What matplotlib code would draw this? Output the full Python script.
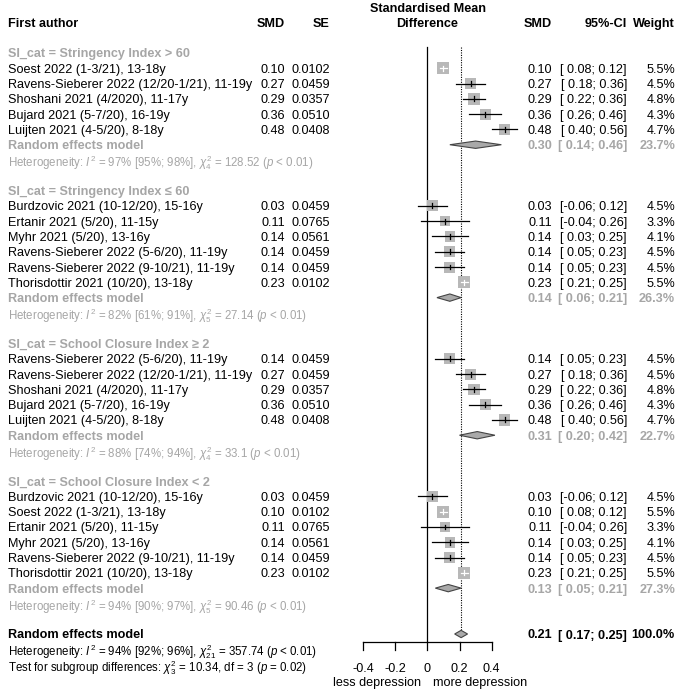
import numpy as np
import matplotlib
matplotlib.use("Agg")
import matplotlib.pyplot as plt
from matplotlib.patches import Rectangle, Polygon
from matplotlib.transforms import blended_transform_factory

plt.rcParams["font.family"] = ["Liberation Sans", "DejaVu Sans"]
plt.rcParams["mathtext.fontset"] = "custom"
plt.rcParams["mathtext.rm"] = "Liberation Sans"
plt.rcParams["mathtext.it"] = "Liberation Sans:italic"
plt.rcParams["mathtext.bf"] = "Liberation Sans:bold"

# ---- data ----
group_labels = ["SI_cat = Stringency Index > 60",
                "SI_cat = Stringency Index \u2264 60",
                "SI_cat = School Closure Index \u2265 2",
                "SI_cat = School Closure Index < 2"]

g1_study = ["Soest 2022 (1-3/21), 13-18y", "Ravens-Sieberer 2022 (12/20-1/21), 11-19y",
            "Shoshani 2021 (4/2020), 11-17y", "Bujard 2021 (5-7/20), 16-19y",
            "Luijten 2021 (4-5/20), 8-18y"]
g1_smd = [0.10, 0.27, 0.29, 0.36, 0.48]
g1_se = [0.0102, 0.0459, 0.0357, 0.0510, 0.0408]
g1_lo = [0.08, 0.18, 0.22, 0.26, 0.40]
g1_hi = [0.12, 0.36, 0.36, 0.46, 0.56]
g1_w = [5.5, 4.5, 4.8, 4.3, 4.7]

g2_study = ["Burdzovic 2021 (10-12/20), 15-16y", "Ertanir 2021 (5/20), 11-15y",
            "Myhr 2021 (5/20), 13-16y", "Ravens-Sieberer 2022 (5-6/20), 11-19y",
            "Ravens-Sieberer 2022 (9-10/21), 11-19y", "Thorisdottir 2021 (10/20), 13-18y"]
g2_smd = [0.03, 0.11, 0.14, 0.14, 0.14, 0.23]
g2_se = [0.0459, 0.0765, 0.0561, 0.0459, 0.0459, 0.0102]
g2_lo = [-0.06, -0.04, 0.03, 0.05, 0.05, 0.21]
g2_hi = [0.12, 0.26, 0.25, 0.23, 0.23, 0.25]
g2_w = [4.5, 3.3, 4.1, 4.5, 4.5, 5.5]

g3_study = ["Ravens-Sieberer 2022 (5-6/20), 11-19y", "Ravens-Sieberer 2022 (12/20-1/21), 11-19y",
            "Shoshani 2021 (4/2020), 11-17y", "Bujard 2021 (5-7/20), 16-19y",
            "Luijten 2021 (4-5/20), 8-18y"]
g3_smd = [0.14, 0.27, 0.29, 0.36, 0.48]
g3_se = [0.0459, 0.0459, 0.0357, 0.0510, 0.0408]
g3_lo = [0.05, 0.18, 0.22, 0.26, 0.40]
g3_hi = [0.23, 0.36, 0.36, 0.46, 0.56]
g3_w = [4.5, 4.5, 4.8, 4.3, 4.7]

g4_study = ["Burdzovic 2021 (10-12/20), 15-16y", "Soest 2022 (1-3/21), 13-18y",
            "Ertanir 2021 (5/20), 11-15y", "Myhr 2021 (5/20), 13-16y",
            "Ravens-Sieberer 2022 (9-10/21), 11-19y", "Thorisdottir 2021 (10/20), 13-18y"]
g4_smd = [0.03, 0.10, 0.11, 0.14, 0.14, 0.23]
g4_se = [0.0459, 0.0102, 0.0765, 0.0561, 0.0459, 0.0102]
g4_lo = [-0.06, 0.08, -0.04, 0.03, 0.05, 0.21]
g4_hi = [0.12, 0.12, 0.26, 0.25, 0.23, 0.25]
g4_w = [4.5, 5.5, 3.3, 4.1, 4.5, 5.5]

re_smd = [0.30, 0.14, 0.31, 0.13]
re_lo = [0.14, 0.06, 0.20, 0.05]
re_hi = [0.46, 0.21, 0.42, 0.21]
re_w = [23.7, 26.3, 22.7, 27.3]
het_i2 = ["97% [95%; 98%]", "82% [61%; 91%]", "88% [74%; 94%]", "94% [90%; 97%]"]
het_df = [4, 5, 4, 5]
het_q = ["128.52", "27.14", "33.1", "90.46"]

overall = (0.21, 0.17, 0.25, 100.0)
overall_het = ("94% [92%; 96%]", 21, "357.74")
subgroup_test = (3, "10.34", 3, "0.02")

xticks = [-0.4, -0.2, 0, 0.2, 0.4]

groups = [(g1_study, g1_smd, g1_se, g1_lo, g1_hi, g1_w),
          (g2_study, g2_smd, g2_se, g2_lo, g2_hi, g2_w),
          (g3_study, g3_smd, g3_se, g3_lo, g3_hi, g3_w),
          (g4_study, g4_smd, g4_se, g4_lo, g4_hi, g4_w)]

# ---- layout ----
W, H = 685, 690
x0_px, unit_px = 427.3, 161.0      # pixel of SMD=0, pixels per SMD unit
y0_px, row_px = 22.4, 15.29        # pixel of row 0, pixels per row
fs = 9.1
fs_het = 8.3
grey = "#a6a6a6"
box_col = "#b8b8b8"
dia_col = "#a9a9a9"

fig = plt.figure(figsize=(W / 100, H / 100), dpi=100)
ax = fig.add_axes([0, 0, 1, 1])
ax.set_xlim(-x0_px / unit_px, (W - x0_px) / unit_px)
ax.set_ylim((H - y0_px) / row_px, -y0_px / row_px)
ax.axis("off")
tr = blended_transform_factory(fig.transFigure, ax.transData)


def txt(px, row, s, ha="left", color="black", weight="normal", size=fs):
    ax.text(px / W, row, s, ha=ha, va="center_baseline", color=color,
            fontweight=weight, fontsize=size, transform=tr)


def fmt_ci(lo, hi):
    a = ("%.2f" % lo) if lo < 0 else (" %.2f" % lo)
    return "[%s; %.2f]" % (a, hi)


def diamond(est, lo, hi, row, h=0.24):
    ax.add_patch(Polygon([(lo, row), (est, row - h), (hi, row), (est, row + h)],
                         closed=True, facecolor=dia_col, edgecolor="#444444", lw=0.8, zorder=4))


# header
txt(8, 0, "First author", weight="bold")
txt(285, 0, "SMD", ha="right", weight="bold")
txt(330, 0, "SE", ha="right", weight="bold")
txt(427.5, -1, "Standardised Mean", ha="center", weight="bold")
txt(427.5, 0, "Difference", ha="center", weight="bold")
txt(552, 0, "SMD", ha="right", weight="bold")
txt(627, 0, "95%-CI", ha="right", weight="bold")
txt(675, 0, "Weight", ha="right", weight="bold")

row = 2
for gi, (study, smd, se, lo, hi, w) in enumerate(groups):
    txt(8, row, group_labels[gi], color=grey, weight="bold")
    for k in range(len(study)):
        r = row + 1 + k
        txt(8, r, study[k])
        txt(285, r, "%.2f" % smd[k], ha="right")
        txt(330, r, "%.4f" % se[k], ha="right")
        txt(552, r, "%.2f" % smd[k], ha="right")
        txt(627, r, fmt_ci(lo[k], hi[k]), ha="right")
        txt(675, r, "%.1f%%" % w[k], ha="right")
        side = 5.2 * np.sqrt(w[k])
        bw, bh = side / unit_px, side / row_px
        ax.add_patch(Rectangle((smd[k] - bw / 2, r - bh / 2), bw, bh,
                               facecolor=box_col, edgecolor="none", zorder=3))
        inside = (hi[k] - lo[k]) < bw
        lc = "white" if inside else "black"
        ax.plot([lo[k], hi[k]], [r, r], color=lc, lw=0.9, zorder=5)
        ax.plot([smd[k], smd[k]], [r - 0.16, r + 0.16], color=lc, lw=0.9, zorder=5)
    r = row + len(study) + 1
    txt(8, r, "Random effects model", color=grey, weight="bold")
    diamond(re_smd[gi], re_lo[gi], re_hi[gi], r)
    txt(552, r, "%.2f" % re_smd[gi], ha="right", color=grey, weight="bold")
    txt(627, r, fmt_ci(re_lo[gi], re_hi[gi]), ha="right", color=grey, weight="bold")
    txt(675, r, "%.1f%%" % re_w[gi], ha="right", color=grey, weight="bold")
    het = (r"Heterogeneity: $I^2$ = %s, $\chi^2_{%d}$ = %s ($p$ < 0.01)"
           % (het_i2[gi], het_df[gi], het_q[gi]))
    txt(8, r + 1, het, color=grey, size=fs_het)
    row = r + 3

# overall
r_all = 40
txt(8, r_all, "Random effects model", weight="bold")
diamond(overall[0], overall[1], overall[2], r_all)
txt(552, r_all, "%.2f" % overall[0], ha="right", weight="bold")
txt(627, r_all, fmt_ci(overall[1], overall[2]), ha="right", weight="bold")
txt(675, r_all, "%.1f%%" % overall[3], ha="right", weight="bold")
txt(8, r_all + 0.95, r"Heterogeneity: $I^2$ = %s, $\chi^2_{%d}$ = %s ($p$ < 0.01)" % overall_het,
    size=fs_het)
txt(8, r_all + 2.05, r"Test for subgroup differences: $\chi^2_{%d}$ = %s, df = %d ($p$ = %s)"
    % subgroup_test, size=fs_het)

# reference lines
ax.plot([0, 0], [1.6, r_all + 0.5], color="black", lw=0.9, zorder=2)
ax.plot([overall[0], overall[0]], [1.6, r_all - 0.24], color="black", lw=0.8,
        ls=(0, (1, 1.2)), zorder=2)

# x axis
ya = r_all + 0.5
ax.plot([xticks[0], xticks[-1]], [ya, ya], color="black", lw=0.9)
for t in xticks:
    ax.plot([t, t], [ya, ya + 0.55], color="black", lw=0.9)
    ax.text(t, ya + 1.7, ("%g" % t), ha="center", va="center_baseline", fontsize=fs)
ax.text(-0.04, ya + 2.6, "less depression", ha="right", va="center_baseline", fontsize=fs)
ax.text(0.035, ya + 2.6, "more depression", ha="left", va="center_baseline", fontsize=fs)

fig.savefig("out.png", dpi=100, facecolor="white")
